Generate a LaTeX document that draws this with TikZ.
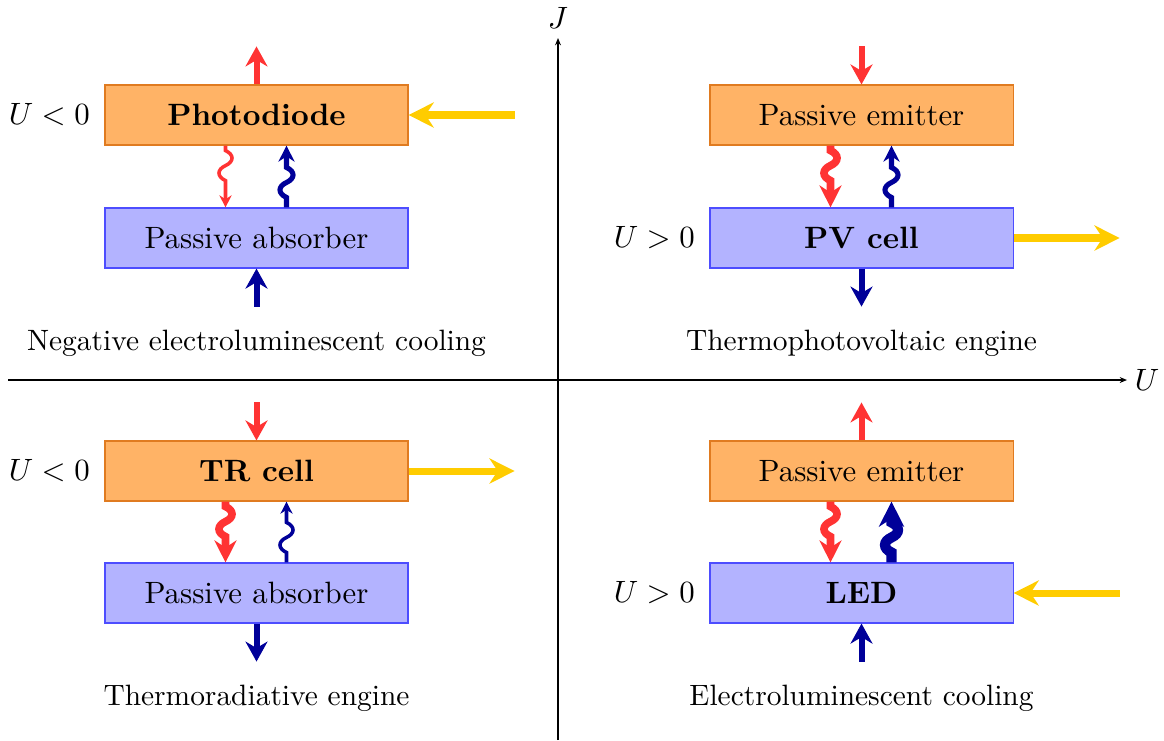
\documentclass[tikz,border=0pt]{standalone}
\usetikzlibrary{arrows.meta,calc}
\definecolor{boxorange}{HTML}{FFB366}
\definecolor{edgeorange}{HTML}{E07B20}
\definecolor{boxblue}{HTML}{B3B3FF}
\definecolor{edgeblue}{HTML}{4D4DFF}
\definecolor{hotred}{HTML}{FF3333}
\definecolor{navy}{HTML}{000099}
\definecolor{gold}{HTML}{FFCC00}
\newcommand{\midsize}{\fontsize{10.95}{13.6}\selectfont}
\newcommand{\capsize}{\fontsize{10.45}{12.6}\selectfont}
% wavy arrow going down from #2 (upper box) to #3 (lower box), x offset #4
\newcommand{\wavedown}[4]{%
  \draw[#1] ($(#2.south)+(#4,0)$) -- ($(#2.south)+(#4,5)$)
    .. controls ($(#2.south)+(#4+8.7,9)$) and ($(#2.south)+(#4+8.7,16)$) .. ($(#2.south)+(#4,20)$)
    .. controls ($(#2.south)+(#4-8.7,24)$) and ($(#2.south)+(#4-8.7,31)$) .. ($(#2.south)+(#4,35)$)
    -- ($(#3.north)+(#4,0)$);}
% wavy arrow going up from #3 (lower box) to #2 (upper box), x offset #4
\newcommand{\waveup}[4]{%
  \draw[#1] ($(#3.north)+(#4,0)$) -- ($(#3.north)+(#4,-10)$)
    .. controls ($(#3.north)+(#4-8.7,-14)$) and ($(#3.north)+(#4-8.7,-21)$) .. ($(#3.north)+(#4,-25)$)
    .. controls ($(#3.north)+(#4+8.7,-29)$) and ($(#3.north)+(#4+8.7,-36)$) .. ($(#3.north)+(#4,-40)$)
    -- ($(#2.south)+(#4,0)$);}
\begin{document}
\begin{tikzpicture}[x=0.355pt,y=-0.355pt,
  hot/.style={draw=edgeorange, fill=boxorange, minimum width=107.6pt, minimum height=21.3pt, inner sep=0pt, font=\midsize},
  cold/.style={draw=edgeblue, fill=boxblue, minimum width=107.6pt, minimum height=21.3pt, inner sep=0pt, font=\midsize},
  flow/.style={line width=2.13pt, -{Stealth[length=7.1pt,width=7.8pt]}},
  power/.style={gold, line width=2.5pt, -{Stealth[length=8.9pt,width=8.9pt]}},
  wthin/.style={line width=1.25pt, -{Stealth[length=4.3pt,width=4.3pt]}},
  wmed/.style={line width=1.8pt, -{Stealth[length=5.7pt,width=5.7pt]}},
  wthick/.style={line width=2.7pt, -{Stealth[length=7.8pt,width=7.8pt]}},
  wxthick/.style={line width=3.6pt, -{Stealth[length=8.9pt,width=8.9pt]}},
  axis/.style={-{Stealth[length=2.6pt,width=2.1pt]}},
  volt/.style={anchor=east, inner sep=5pt, font=\midsize},
  caption/.style={font=\capsize}
]
\useasboundingbox (0,0) rectangle (1164,740);

% axes
\coordinate (xl) at (8,380);
\coordinate (xr) at (1127,380);
\coordinate (yb) at (558,740);
\coordinate (yt) at (558,38);
\draw[axis] (xl) -- (xr);
\draw[axis] (yb) -- (yt);
\node[font=\midsize] (Ulab) at (1147,380) {$U$};
\node[font=\midsize] (Jlab) at (558,18) {$J$};

% boxes
\node[hot]  (pd)  at (256.5,115) {\textbf{Photodiode}};
\node[cold] (pa1) at (256.5,238) {Passive absorber};
\node[hot]  (pe1) at (861.5,115) {Passive emitter};
\node[cold] (pv)  at (861.5,238) {\textbf{PV cell}};
\node[hot]  (tr)  at (256.5,471) {\textbf{TR cell}};
\node[cold] (pa2) at (256.5,593) {Passive absorber};
\node[hot]  (pe2) at (861.5,471) {Passive emitter};
\node[cold] (led) at (861.5,593) {\textbf{LED}};

% voltage labels
\node[volt] (v1) at (pd.west)  {$U<0$};
\node[volt] (v2) at (pv.west)  {$U>0$};
\node[volt] (v3) at (tr.west)  {$U<0$};
\node[volt] (v4) at (led.west) {$U>0$};

% captions
\node[caption] (c1) at (256.5,343) {Negative electroluminescent cooling};
\node[caption] (c2) at (861.5,343) {Thermophotovoltaic engine};
\node[caption] (c3) at (256.5,698) {Thermoradiative engine};
\node[caption] (c4) at (861.5,698) {Electroluminescent cooling};

% top-left
\coordinate (r1) at ($(pd.north)+(0,-38)$);
\coordinate (y1) at ($(pd.east)+(106,0)$);
\coordinate (b1) at ($(pa1.south)+(0,38)$);
\draw[flow,hotred] (pd.north) -- (r1);
\draw[power] (y1) -- (pd.east);
\draw[flow,navy] (b1) -- (pa1.south);
\wavedown{wthin,hotred}{pd}{pa1}{-31}
\waveup{wmed,navy}{pd}{pa1}{30}

% top-right
\coordinate (r2) at ($(pe1.north)+(0,-38)$);
\coordinate (y2) at ($(pv.east)+(106,0)$);
\coordinate (b2) at ($(pv.south)+(0,38)$);
\draw[flow,hotred] (r2) -- (pe1.north);
\draw[power] (pv.east) -- (y2);
\draw[flow,navy] (pv.south) -- (b2);
\wavedown{wthick,hotred}{pe1}{pv}{-31}
\waveup{wmed,navy}{pe1}{pv}{30}

% bottom-left
\coordinate (r3) at ($(tr.north)+(0,-38)$);
\coordinate (y3) at ($(tr.east)+(106,0)$);
\coordinate (b3) at ($(pa2.south)+(0,38)$);
\draw[flow,hotred] (r3) -- (tr.north);
\draw[power] (tr.east) -- (y3);
\draw[flow,navy] (pa2.south) -- (b3);
\wavedown{wthick,hotred}{tr}{pa2}{-31}
\waveup{wthin,navy}{tr}{pa2}{30}

% bottom-right
\coordinate (r4) at ($(pe2.north)+(0,-38)$);
\coordinate (y4) at ($(led.east)+(106,0)$);
\coordinate (b4) at ($(led.south)+(0,38)$);
\draw[flow,hotred] (pe2.north) -- (r4);
\draw[power] (y4) -- (led.east);
\draw[flow,navy] (b4) -- (led.south);
\wavedown{wthick,hotred}{pe2}{led}{-31}
\waveup{wxthick,navy}{pe2}{led}{30}
\end{tikzpicture}
\end{document}
